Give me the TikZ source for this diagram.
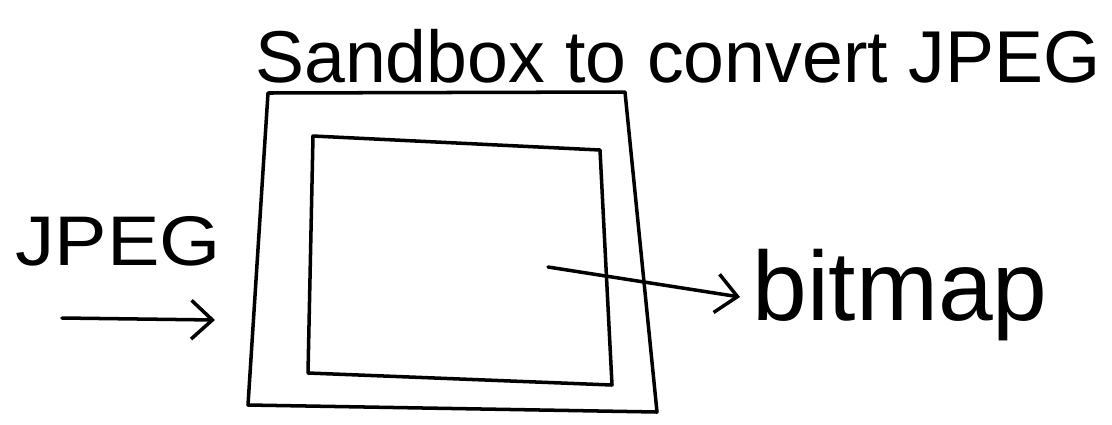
\documentclass[tikz,border=0pt]{standalone}
\usepackage{fontspec}
\setmainfont{Liberation Sans}
\usetikzlibrary{arrows.meta}
\begin{document}
\begin{tikzpicture}[x=0.02cm,y=-0.02cm,
  ink/.style={line width=2pt,line join=round,line cap=round,black},
  label/.style={inner sep=0pt,anchor=base west},
  arr/.style={ink,-{Straight Barb[length=12pt,width=22pt,line width=2pt]}}]
\useasboundingbox[fill=white] (0,0) rectangle (1112,424);
% title
\node[label,font=\fontsize{44}{50}\selectfont] (title) at (255,82) {\resizebox{16.9cm}{!}{Sandbox to convert JPEG}};
% outer box
\coordinate (o1) at (268,93);
\coordinate (o2) at (625,92);
\coordinate (o3) at (657,412);
\coordinate (o4) at (248,405);
\draw[ink] (o1) -- (o2) -- (o3) -- (o4) -- cycle;
% inner box
\coordinate (i1) at (313,136);
\coordinate (i2) at (600,150);
\coordinate (i3) at (612,385);
\coordinate (i4) at (308,373);
\draw[ink] (i1) -- (i2) -- (i3) -- (i4) -- cycle;
% JPEG input
\node[label,font=\fontsize{40}{46}\selectfont,xscale=1.12] (jpeg) at (15,265) {JPEG};
\coordinate (ja) at (62,318);
\coordinate (jb) at (215,320);
\draw[arr] (ja) -- (jb);
% bitmap output
\node[label,font=\fontsize{56}{62}\selectfont] (bitmap) at (752,320) {bitmap};
\coordinate (ba) at (548,267);
\coordinate (bb) at (740,297);
\draw[arr] (ba) -- (bb);
\end{tikzpicture}
\end{document}
